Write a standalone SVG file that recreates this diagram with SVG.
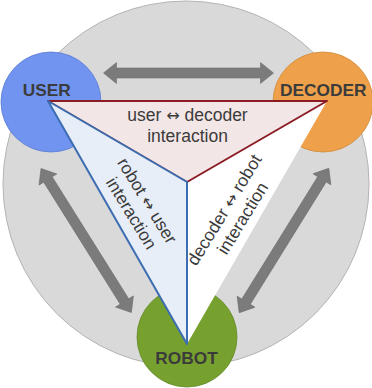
<svg xmlns="http://www.w3.org/2000/svg" width="372" height="388" viewBox="0 0 372 388">
  <defs>
    <style>
      .node-label { font-family: "Liberation Sans", Arial, sans-serif; font-weight: bold; font-size: 17.3px; fill: #3b3b3b; text-anchor: middle; }
      .zone-label { font-family: "Liberation Sans", Arial, sans-serif; font-size: 17.5px; fill: #3b3b3b; text-anchor: middle; }
      .sym { font-family: "DejaVu Sans", sans-serif; font-size: 16px; }
      .link { fill: #7b7b7b; stroke: #6e6e6e; stroke-width: 0.6; }
    </style>
    <!-- double-headed block arrow, 170 long, centred on the origin -->
    <path id="dbl-arrow" d="M-85,0 L-72,-10.5 L-72,-5 L72,-5 L72,-10.5 L85,0 L72,10.5 L72,5 L-72,5 L-72,10.5 Z"/>
  </defs>

  <!-- backdrop disc -->
  <circle id="backdrop" cx="186" cy="184" r="183" fill="#d9d9d9" stroke="#b4b4b4" stroke-width="1"/>

  <!-- agents -->
  <g id="user">
    <circle cx="51" cy="102" r="50" fill="#7094f0" stroke="#5a7bd0" stroke-width="0.8"/>
    <text class="node-label" x="46.7" y="95.5">USER</text>
  </g>
  <g id="decoder">
    <circle cx="323" cy="102" r="50" fill="#eea14a" stroke="#d08a3a" stroke-width="0.8"/>
    <text class="node-label" x="323.3" y="95.5">DECODER</text>
  </g>
  <g id="robot">
    <circle cx="187" cy="337" r="50" fill="#77a12f" stroke="#658a28" stroke-width="0.8"/>
    <text class="node-label" x="186.5" y="364">ROBOT</text>
  </g>

  <!-- pairwise interaction zones -->
  <g id="decoder-robot-zone">
    <polygon points="187,182 327,101 187,344" fill="#ffffff"/>
    <text class="zone-label" transform="translate(234,213) rotate(-58.5)">
      <tspan x="0" y="-4">decoder <tspan class="sym">↔</tspan> robot</tspan>
      <tspan x="0" y="16">interaction</tspan>
    </text>
  </g>
  <g id="user-decoder-zone">
    <polygon points="48,101 327,101 187,182" fill="#f3e6e6" stroke="#8c1c24" stroke-width="2" stroke-linejoin="round"/>
    <text class="zone-label" x="187.5" y="121">user <tspan class="sym">↔</tspan> decoder</text>
    <text class="zone-label" x="187.5" y="141.7">interaction</text>
  </g>
  <g id="robot-user-zone">
    <polygon points="48,101 187,182 187,344" fill="#e8eef8" stroke="#3c6db0" stroke-width="2" stroke-linejoin="round"/>
    <text class="zone-label" transform="translate(140,208) rotate(58.5)">
      <tspan x="0" y="-4">robot <tspan class="sym">↔</tspan> user</tspan>
      <tspan x="0" y="16">interaction</tspan>
    </text>
  </g>

  <!-- connectors between agents -->
  <g id="connectors">
    <use href="#dbl-arrow" class="link" transform="translate(188.5,73)"/>
    <use href="#dbl-arrow" class="link" transform="translate(86.2,240.5) rotate(57.9)"/>
    <use href="#dbl-arrow" class="link" transform="translate(284,240.5) rotate(-58.2)"/>
  </g>
</svg>
